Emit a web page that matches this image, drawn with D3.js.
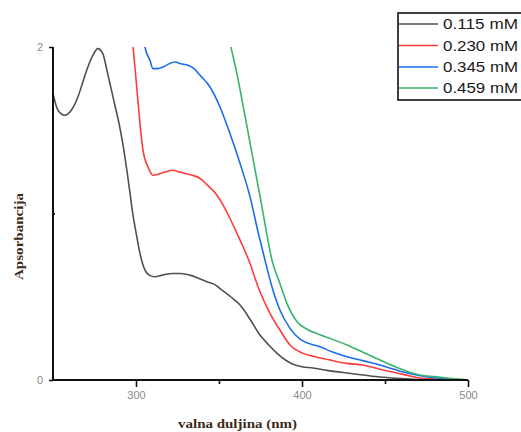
<!DOCTYPE html>
<html>
<head>
<meta charset="utf-8">
<script src="https://cdn.jsdelivr.net/npm/d3@7"></script>
<style>
  html, body { margin: 0; padding: 0; background: #fff; }
  svg { display: block; }
</style>
</head>
<body>
<svg id="chart" width="521" height="432"></svg>
<script>
// ---- data ----
const seriesLabels = ["0.115 mM", "0.230 mM", "0.345 mM", "0.459 mM"];
const seriesColors = ["#505050", "#ff3b3b", "#1c6cf0", "#37b46c"];

const wl115  = [250, 253, 257, 261, 265, 268, 271, 274, 277, 280, 282.5, 285, 287.3, 290, 292.2, 295.2, 298.2, 300.5, 302.4, 305.4, 308, 311.4, 316, 322.3, 327, 332.5, 338, 342.8, 348, 351.8, 357, 362.7, 369, 374.7, 380, 385, 390, 394.6, 400, 406.6, 415, 427.1, 437, 447, 457, 467, 480, 500];
const abs115 = [1.72, 1.62, 1.59, 1.62, 1.70, 1.79, 1.88, 1.95, 1.99, 1.96, 1.86, 1.75, 1.65, 1.53, 1.41, 1.21, 0.99, 0.86, 0.76, 0.66, 0.63, 0.62, 0.63, 0.64, 0.64, 0.63, 0.61, 0.59, 0.57, 0.54, 0.50, 0.45, 0.36, 0.27, 0.21, 0.16, 0.12, 0.095, 0.08, 0.072, 0.058, 0.042, 0.03, 0.018, 0.01, 0.004, 0.001, 0];

const wl230  = [297.6, 298.2, 300.6, 302.4, 304.2, 307.2, 310.2, 314.5, 318, 322.3, 326, 329.5, 334, 338.6, 343, 348.8, 352.5, 356.6, 362.7, 368.7, 373.5, 380.7, 386.7, 392.8, 400.6, 408, 416.9, 427, 436.7, 447, 457.2, 465, 471, 480, 490, 500];
const abs230 = [2.05, 2.0, 1.74, 1.54, 1.38, 1.28, 1.23, 1.24, 1.25, 1.26, 1.25, 1.24, 1.23, 1.21, 1.17, 1.11, 1.05, 0.97, 0.84, 0.70, 0.56, 0.40, 0.30, 0.21, 0.16, 0.14, 0.12, 0.10, 0.09, 0.065, 0.042, 0.024, 0.012, 0.006, 0.002, 0];

const wl345  = [304.6, 305.4, 308.4, 310.2, 313, 316.3, 320, 323.5, 327, 331.3, 335, 338.6, 344.6, 350.6, 356.6, 362.7, 368.7, 373.5, 377.7, 381.9, 386.7, 392.8, 398.8, 404, 410.8, 418, 427.1, 437, 447, 455, 463.3, 472, 481.3, 490, 500];
const abs345 = [2.05, 2.0, 1.92, 1.87, 1.87, 1.88, 1.90, 1.91, 1.90, 1.89, 1.87, 1.83, 1.76, 1.64, 1.48, 1.30, 1.10, 0.89, 0.72, 0.56, 0.42, 0.31, 0.245, 0.22, 0.20, 0.17, 0.14, 0.115, 0.09, 0.066, 0.042, 0.024, 0.012, 0.004, 0];

const wl459  = [356.1, 357.2, 360.8, 363.9, 366.9, 369.9, 372.9, 375.9, 378.9, 381.9, 386.7, 390.9, 397, 403, 410, 416.9, 427.1, 437, 447, 457.2, 464, 471, 480, 487.3, 494, 500];
const abs459 = [2.05, 2.0, 1.84, 1.68, 1.52, 1.36, 1.20, 1.04, 0.87, 0.72, 0.58, 0.46, 0.35, 0.305, 0.275, 0.25, 0.21, 0.165, 0.12, 0.075, 0.05, 0.03, 0.02, 0.012, 0.005, 0];

const xTickValues = [300, 400, 500];
const xMinorTicks = [350, 450];
const yTickValues = [0, 2];
const yMinorTicks = [1];
const xTitle = "valna duljina (nm)";
const yTitle = "Apsorbancija";

// ---- layout ----
const svg = d3.select("#chart");
const mLeft = 53, mRight = 468, mTop = 47, mBottom = 380;

const x = d3.scaleLinear().domain([250, 500]).range([mLeft, mRight]);
const y = d3.scaleLinear().domain([0, 2]).range([mBottom, mTop]);

svg.append("rect").attr("width", 521).attr("height", 432).attr("fill", "#fff");

svg.append("defs").append("clipPath").attr("id", "plotclip")
  .append("rect").attr("x", mLeft).attr("y", mTop).attr("width", mRight - mLeft + 2).attr("height", mBottom - mTop);

const series = [
  { wl: wl115, ab: abs115 },
  { wl: wl230, ab: abs230 },
  { wl: wl345, ab: abs345 },
  { wl: wl459, ab: abs459 }
];

const line = d3.line()
  .x(d => x(d[0]))
  .y(d => y(d[1]))
  .curve(d3.curveMonotoneX);

const plot = svg.append("g").attr("clip-path", "url(#plotclip)");
series.forEach((s, i) => {
  const pts = s.wl.map((w, j) => [w, s.ab[j]]);
  plot.append("path")
    .datum(pts)
    .attr("d", line)
    .attr("fill", "none")
    .attr("stroke", seriesColors[i])
    .attr("stroke-width", 1.6)
    .attr("stroke-linejoin", "round");
});

// ---- axes ----
const xAxis = d3.axisBottom(x).tickValues(xTickValues).tickSize(7).tickPadding(4).tickFormat(d3.format("d"));
const gx = svg.append("g").attr("transform", `translate(0,${mBottom})`).call(xAxis);
gx.select(".domain").attr("stroke", "#111").attr("stroke-width", 2).attr("d", `M${mLeft},0H${mRight}`);
gx.selectAll(".tick line").attr("stroke", "#111").attr("stroke-width", 1.6);
gx.selectAll(".tick text").attr("fill", "#8a8a8a").attr("font-family", "Liberation Sans, Arial, sans-serif").attr("font-size", 11);

const gxm = svg.append("g").attr("transform", `translate(0,${mBottom})`)
  .call(d3.axisBottom(x).tickValues(xMinorTicks).tickSize(4).tickFormat(""));
gxm.select(".domain").remove();
gxm.selectAll(".tick line").attr("stroke", "#111").attr("stroke-width", 1.6);

const yAxis = d3.axisLeft(y).tickValues(yTickValues).tickSize(4).tickPadding(6).tickFormat(d3.format("d"));
const gy = svg.append("g").attr("transform", `translate(${mLeft},0)`).call(yAxis);
gy.select(".domain").attr("stroke", "#111").attr("stroke-width", 2).attr("d", `M0,${mTop}V${mBottom}`);
gy.selectAll(".tick line").attr("stroke", "#111").attr("stroke-width", 1.6);
gy.selectAll(".tick text").attr("fill", "#8a8a8a").attr("font-family", "Liberation Sans, Arial, sans-serif").attr("font-size", 11);

const gym = svg.append("g").attr("transform", `translate(${mLeft + 2},0)`)
  .call(d3.axisLeft(y).tickValues(yMinorTicks).tickSize(3).tickFormat(""));
gym.select(".domain").remove();
gym.selectAll(".tick line").attr("stroke", "#111").attr("stroke-width", 1.6);

// ---- axis titles ----
svg.append("text")
  .attr("x", 178).attr("y", 428)
  .attr("font-family", "Liberation Serif, Times New Roman, serif")
  .attr("font-weight", "bold")
  .attr("font-size", 13)
  .attr("textLength", 119)
  .attr("lengthAdjust", "spacingAndGlyphs")
  .attr("fill", "#3a2a1a")
  .text(xTitle);

svg.append("text")
  .attr("transform", "translate(23,280) rotate(-90)")
  .attr("font-family", "Liberation Serif, Times New Roman, serif")
  .attr("font-weight", "bold")
  .attr("font-size", 13)
  .attr("textLength", 87)
  .attr("lengthAdjust", "spacingAndGlyphs")
  .attr("fill", "#3a2a1a")
  .text(yTitle);

// ---- legend ----
const legend = svg.append("g");
legend.append("rect")
  .attr("x", 398).attr("y", 13).attr("width", 130).attr("height", 87)
  .attr("fill", "#fff").attr("stroke", "#111").attr("stroke-width", 1.6);
const rowY = [24, 45.5, 67, 88];
seriesLabels.forEach((lab, i) => {
  legend.append("line")
    .attr("x1", 399).attr("x2", 438)
    .attr("y1", rowY[i]).attr("y2", rowY[i])
    .attr("stroke", seriesColors[i]).attr("stroke-width", 1.6);
  legend.append("text")
    .attr("x", 443).attr("y", rowY[i] + 5)
    .attr("font-family", "Liberation Sans, Arial, sans-serif")
    .attr("font-size", 14)
    .attr("textLength", 75)
    .attr("lengthAdjust", "spacingAndGlyphs")
    .attr("fill", "#1a1a1a")
    .text(lab);
});
</script>
</body>
</html>
